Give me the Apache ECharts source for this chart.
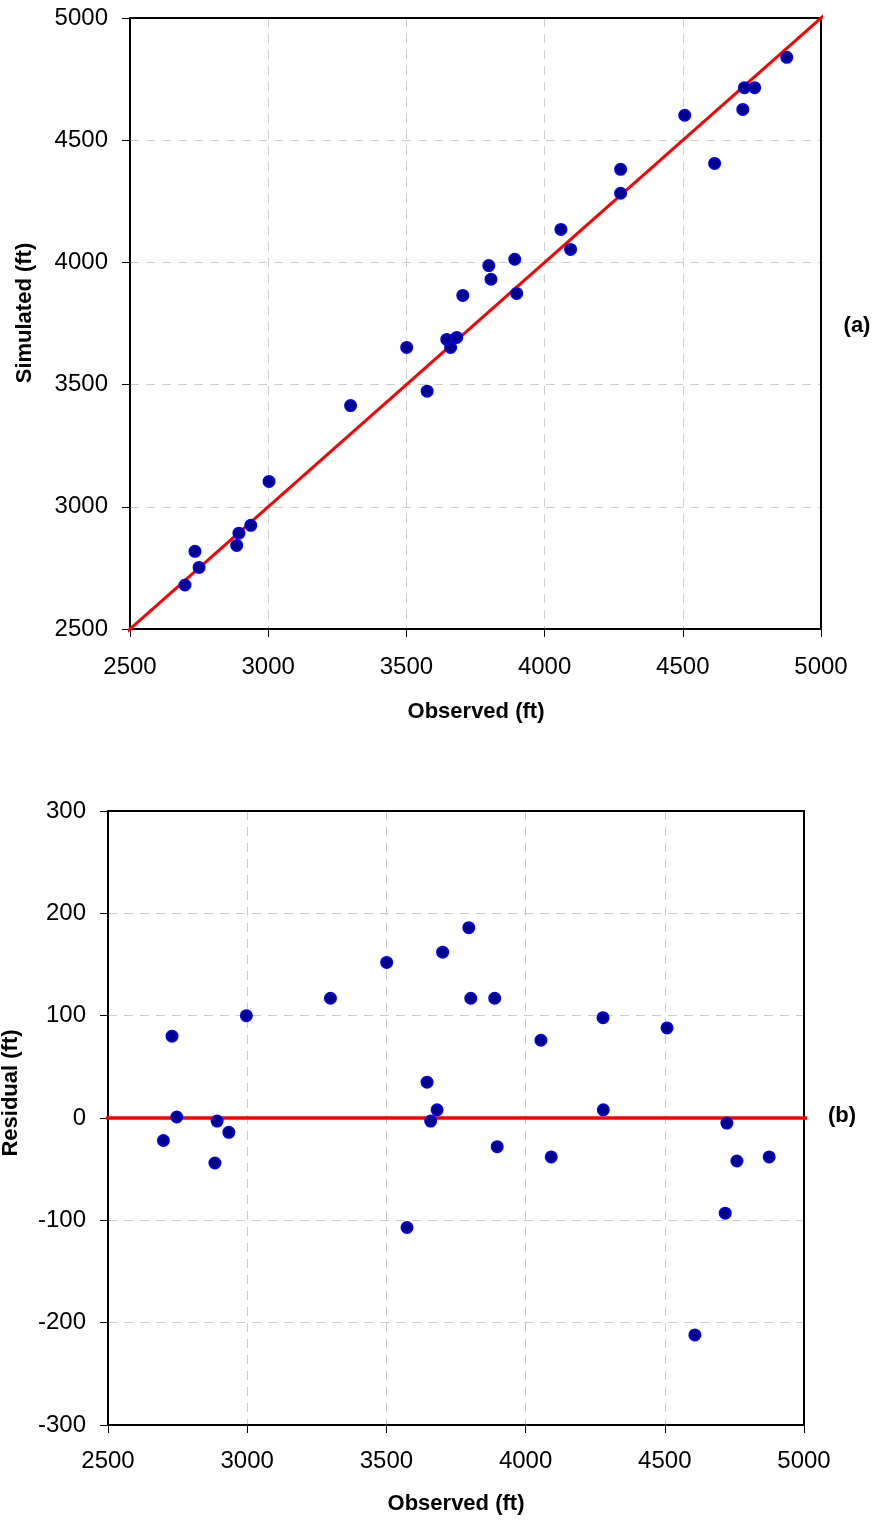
<!DOCTYPE html>
<html>
<head>
<meta charset="utf-8">
<script src="https://cdn.jsdelivr.net/npm/echarts@6/dist/echarts.min.js"></script>
<style>
  html, body { margin: 0; padding: 0; background: #fff; }
  #chart { width: 876px; height: 1521px; }
</style>
</head>
<body>
<div id="chart"></div>
<script>
// ---- Data ----
// Panel (a): observed vs simulated
const obsA = [2699, 2735, 2750, 2886, 2894, 2937, 3003, 3298, 3501, 3575, 3646, 3660, 3682, 3704,
              3798, 3806, 3892, 3899, 4059, 4094, 4275, 4275, 4507, 4615, 4717, 4723, 4760, 4876];
const simA = [2680, 2818, 2752, 2842, 2892, 2924, 3104, 3414, 3652, 3473, 3685, 3652, 3693, 3865,
              3987, 3931, 4013, 3873, 4135, 4053, 4381, 4283, 4602, 4405, 4626, 4715, 4715, 4839];
// 1:1 reference line end points (observed = simulated)
const oneToOne = [2478, 5025];

// Panel (b): observed vs residual
const obsB = [2699, 2730, 2747, 2884, 2892, 2934, 2997, 3299, 3501, 3574, 3646, 3659, 3682, 3702,
              3796, 3803, 3889, 3898, 4055, 4092, 4278, 4279, 4508, 4608, 4717, 4723, 4759, 4875];
const residB = [-22, 80, 1, -44, -3, -14, 100, 117, 152, -107, 35, -3, 8, 162,
                186, 117, 117, -28, 76, -38, 98, 8, 88, -212, -93, -5, -42, -38];
// zero residual line extent
const zeroLineX = [2469, 5029];

// Axis ranges / tick steps
const obsRange = [2500, 5000], obsStep = 500;
const simRange = [2500, 5000], simStep = 500;
const resRange = [-300, 300], resStep = 100;

// Labels
const xTitle = 'Observed (ft)';
const yTitleA = 'Simulated (ft)';
const yTitleB = 'Residual (ft)';
const panelA = '(a)', panelB = '(b)';

// ---- Chart ----
const FONT = '"Liberation Sans", Arial, Helvetica, sans-serif';
const chart = echarts.init(document.getElementById('chart'), null, { renderer: 'canvas' });

const plainNum = v => String(v);

function mainAxis(gridIndex, range, step, margin) {
  return {
    type: 'value', gridIndex,
    min: range[0], max: range[1], interval: step,
    axisLine: { show: true, onZero: false, lineStyle: { color: '#000', width: 2 } },
    axisTick: { show: true, inside: false, length: 8, lineStyle: { color: '#000', width: 1 } },
    axisLabel: { color: '#000', fontSize: 24, fontFamily: FONT, margin, formatter: plainNum },
    splitLine: { show: true, lineStyle: { color: '#cccccc', type: [9, 7], width: 1 } },
    z: 1
  };
}
function frameAxis(gridIndex, range, position) {
  return {
    type: 'value', gridIndex, position,
    min: range[0], max: range[1],
    axisLine: { show: true, onZero: false, lineStyle: { color: '#000', width: 2 } },
    axisTick: { show: false }, axisLabel: { show: false }, splitLine: { show: false },
    z: 5
  };
}

const markerStyle = { color: '#00008B', borderColor: '#0000FF', borderWidth: 1.5, opacity: 1 };

const option = {
  animation: false,
  backgroundColor: '#fff',
  grid: [
    { left: 130, top: 18, width: 691, height: 611 },
    { left: 108, top: 811, width: 696, height: 614 }
  ],
  xAxis: [
    mainAxis(0, obsRange, obsStep, 26),
    mainAxis(1, obsRange, obsStep, 24),
    frameAxis(0, obsRange, 'top'),
    frameAxis(1, obsRange, 'top')
  ],
  yAxis: [
    mainAxis(0, simRange, simStep, 22),
    mainAxis(1, resRange, resStep, 22),
    frameAxis(0, simRange, 'right'),
    frameAxis(1, resRange, 'right')
  ],
  series: [
    {
      type: 'line', xAxisIndex: 0, yAxisIndex: 0, clip: false, silent: true,
      data: oneToOne.map(v => [v, v]), symbol: 'none',
      lineStyle: { color: '#FF0000', width: 3 }, z: 6
    },
    {
      type: 'scatter', xAxisIndex: 0, yAxisIndex: 0,
      data: obsA.map((o, i) => [o, simA[i]]),
      symbol: 'circle', symbolSize: 11.5, itemStyle: markerStyle, z: 7
    },
    {
      type: 'line', xAxisIndex: 1, yAxisIndex: 1, clip: false, silent: true,
      data: zeroLineX.map(v => [v, 0]), symbol: 'none',
      lineStyle: { color: '#FF0000', width: 3.5 }, z: 6
    },
    {
      type: 'scatter', xAxisIndex: 1, yAxisIndex: 1,
      data: obsB.map((o, i) => [o, residB[i]]),
      symbol: 'circle', symbolSize: 11.5, itemStyle: markerStyle, z: 7
    }
  ],
  graphic: [
    { type: 'text', style: { text: xTitle, font: 'bold 22px ' + FONT, fill: '#000', textAlign: 'center', textVerticalAlign: 'middle' }, x: 476, y: 712 },
    { type: 'text', style: { text: xTitle, font: 'bold 22px ' + FONT, fill: '#000', textAlign: 'center', textVerticalAlign: 'middle' }, x: 456, y: 1504 },
    { type: 'text', rotation: Math.PI / 2, style: { text: yTitleA, font: 'bold 22px ' + FONT, fill: '#000', textAlign: 'center', textVerticalAlign: 'middle' }, x: 25, y: 313 },
    { type: 'text', rotation: Math.PI / 2, style: { text: yTitleB, font: 'bold 22px ' + FONT, fill: '#000', textAlign: 'center', textVerticalAlign: 'middle' }, x: 11, y: 1093 },
    { type: 'text', style: { text: panelA, font: 'bold 22px ' + FONT, fill: '#000', textAlign: 'center', textVerticalAlign: 'middle' }, x: 857, y: 326 },
    { type: 'text', style: { text: panelB, font: 'bold 22px ' + FONT, fill: '#000', textAlign: 'center', textVerticalAlign: 'middle' }, x: 842, y: 1116 }
  ]
};
chart.setOption(option);
</script>
</body>
</html>
